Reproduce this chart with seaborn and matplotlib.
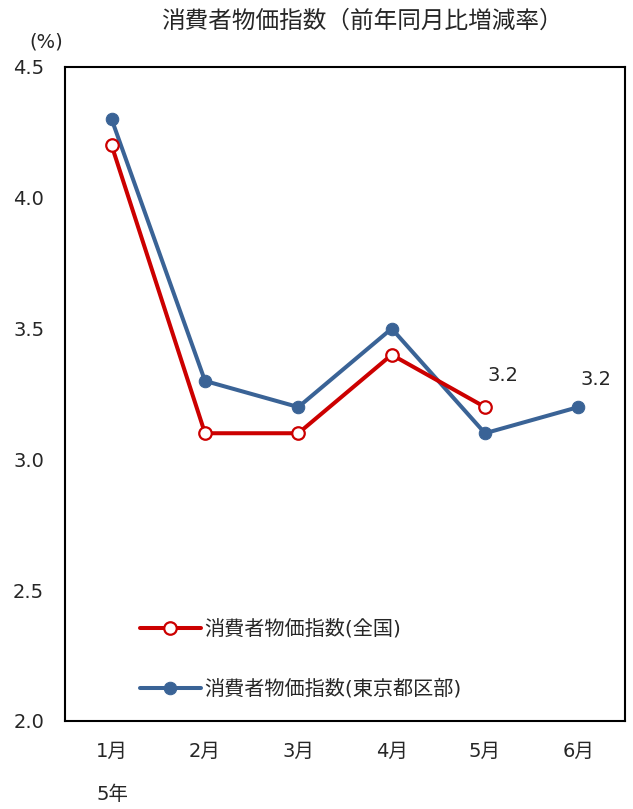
import matplotlib
matplotlib.use("Agg")
import matplotlib.pyplot as plt
import seaborn as sns
import pandas as pd

months = ["1月", "2月", "3月", "4月", "5月", "6月"]
national = [4.2, 3.1, 3.1, 3.4, 3.2]
tokyo = [4.3, 3.3, 3.2, 3.5, 3.1, 3.2]
label_national = "消費者物価指数(全国)"
label_tokyo = "消費者物価指数(東京都区部)"
title = "消費者物価指数（前年同月比増減率）"
yticks = [2.0, 2.5, 3.0, 3.5, 4.0, 4.5]

sns.set_theme(style="white")
plt.rcParams['font.family'] = ['DejaVu Sans', 'Noto Sans CJK JP']

RED = "#CC0000"
BLUE = "#3A6396"

df_n = pd.DataFrame({"x": list(range(len(national))), "y": national})
df_t = pd.DataFrame({"x": list(range(len(tokyo))), "y": tokyo})

fig = plt.figure(figsize=(6.33, 8.09), dpi=100)
ax = fig.add_axes([65/633, 1-721/809, 560/633, (721-67)/809])

sns.lineplot(data=df_n, x="x", y="y", ax=ax, color=RED, linewidth=2.9,
             marker="o", markersize=9, markerfacecolor="white",
             markeredgecolor=RED, markeredgewidth=1.6, label=label_national, zorder=3)
sns.lineplot(data=df_t, x="x", y="y", ax=ax, color=BLUE, linewidth=2.9,
             marker="o", markersize=9, markerfacecolor=BLUE,
             markeredgecolor=BLUE, label=label_tokyo, zorder=2)

ax.set_xlim(-0.5, 5.5)
ax.set_ylim(2.0, 4.5)
ax.set_xticks(range(len(months)))
ax.set_xticklabels(months, fontsize=14)
ax.set_yticks(yticks)
ax.set_yticklabels([f"{v:.1f}" for v in yticks], fontsize=14)
ax.tick_params(axis="both", length=0)
ax.tick_params(axis="x", pad=15)
ax.tick_params(axis="y", pad=15)
ax.set_xlabel("")
ax.set_ylabel("")
for s in ax.spines.values():
    s.set_visible(True)
    s.set_color("black")
    s.set_linewidth(1.5)

ax.annotate(f"{national[4]:.1f}", (4, national[4]), xytext=(13, 23), textcoords="offset points",
            ha="center", va="center", fontsize=14)
ax.annotate(f"{tokyo[5]:.1f}", (5, tokyo[5]), xytext=(13, 19.5), textcoords="offset points",
            ha="center", va="center", fontsize=14)

leg = ax.legend(loc="upper left", bbox_to_anchor=(0.12, 0.168), frameon=False,
                fontsize=14.5, handlelength=3.0, labelspacing=2.0, handletextpad=0.2,
                borderaxespad=0)

fig.text(362/633, 1-21/809, title, ha="center", va="center", fontsize=17)
fig.text(46/633, 1-42/809, "(%)", ha="center", va="center", fontsize=14)
fig.text(113/633, 1-795/809, "5年", ha="center", va="center", fontsize=14)

fig.savefig("out.png", dpi=100)
